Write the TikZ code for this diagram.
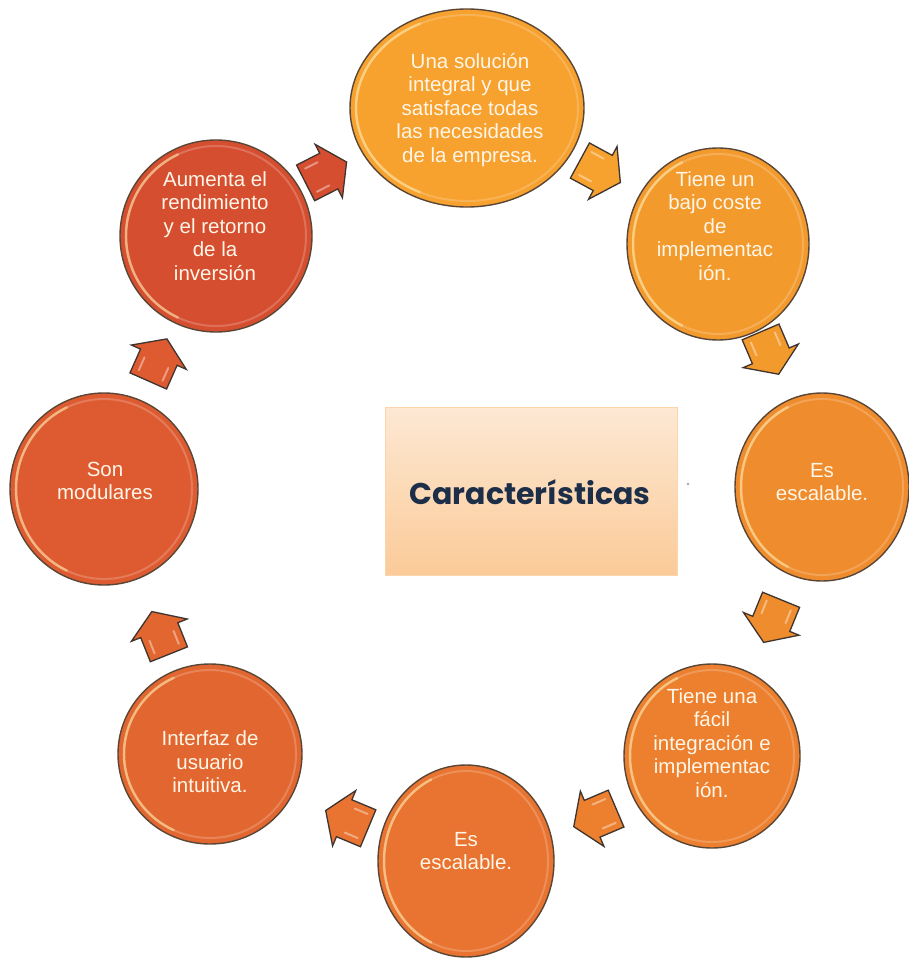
\documentclass[tikz,border=0pt]{standalone}
\usepackage{fontspec}
\setmainfont{Liberation Sans}
\newfontfamily\titlefont{Poppins}
\usetikzlibrary{shapes.geometric,calc}
\definecolor{colA}{HTML}{F7A12E}
\definecolor{colB}{HTML}{F39A2D}
\definecolor{colC}{HTML}{EF8C2D}
\definecolor{colD}{HTML}{EC802F}
\definecolor{colE}{HTML}{E97330}
\definecolor{colF}{HTML}{E2662F}
\definecolor{colG}{HTML}{DE5B31}
\definecolor{colH}{HTML}{D64E30}
\definecolor{bubline}{HTML}{5A4636}
\definecolor{arrline}{HTML}{3E3430}
\definecolor{boxtop}{HTML}{FDE8D4}
\definecolor{boxbot}{HTML}{FBCB98}
\definecolor{titlecol}{HTML}{1C2E48}
\definecolor{txtcol}{HTML}{FFF6E8}
\definecolor{rimcol}{HTML}{FFE9A8}
\begin{document}
\begin{tikzpicture}[x=1pt,y=-1pt,
  bub/.style={ellipse, draw=bubline, line width=1.4pt, inner sep=0pt},
  rim/.style={draw=white, opacity=.2, line width=2pt},
  gloss/.style={draw=rimcol, opacity=.55, line width=2.5pt, line cap=round},
  txt/.style={text=txtcol, align=center, font=\fontsize{20.5}{23.5}\selectfont},
  box/.style={rectangle, top color=boxtop, bottom color=boxbot, draw=boxbot!80!white, line width=1pt,
    minimum width=292pt, minimum height=168pt, inner sep=0pt},
  title/.style={text=titlecol, font=\titlefont\bfseries\fontsize{30}{36}\selectfont},
  barrow/.pic={
    \path[pic actions, draw=arrline, line width=1.3pt, line join=miter]
      (-24,-20) -- (2,-20) -- (2,-30) -- (22,0) -- (2,30) -- (2,20) -- (-24,20) -- cycle;
    \draw[white, opacity=.4, line width=2pt, line cap=round] (-18,-13) -- (-4,-13);
    \draw[white, opacity=.4, line width=2pt, line cap=round] (-18,13) -- (-4,13);
  }]
\useasboundingbox (0,0) rectangle (908,960);
\fill[white] (0,0) rectangle (908,960);

% bubbles
\node[bub, fill=colA, minimum width=234pt, minimum height=198pt] (c1) at (467,108) {};
\node[bub, fill=colB, minimum width=182pt, minimum height=192pt] (c2) at (718,244) {};
\node[bub, fill=colC, minimum width=174pt, minimum height=188pt] (c3) at (822,487) {};
\node[bub, fill=colD, minimum width=176pt, minimum height=184pt] (c4) at (712,756) {};
\node[bub, fill=colE, minimum width=176pt, minimum height=192pt] (c5) at (466,861) {};
\node[bub, fill=colF, minimum width=184pt, minimum height=180pt] (c6) at (210,754) {};
\node[bub, fill=colG, minimum width=188pt, minimum height=192pt] (c7) at (104,489) {};
\node[bub, fill=colH, minimum width=192pt, minimum height=192pt] (c8) at (216,236) {};

\foreach \n/\rx/\ry in {c1/111/93, c2/85/90, c3/81/88, c4/82/86, c5/82/90, c6/86/84, c7/88/90, c8/90/90}{
  \draw[rim] (\n.center) ellipse[x radius=\rx, y radius=\ry];
  \draw[gloss] (\n.center) ++({\rx*cos(115)},{\ry*sin(115)}) arc[start angle=115, end angle=245, x radius=\rx, y radius=\ry];
}

% texts
\node[txt] (t1) at (470,110) {Una solución\\integral y que\\satisface todas\\las necesidades\\de la empresa.};
\node[txt] (t2) at (715,226) {Tiene un\\bajo coste\\de\\implementac\\ión.};
\node[txt] (t3) at (822,482) {Es\\escalable.};
\node[txt] (t4) at (712,743) {Tiene una\\fácil\\integración e\\implementac\\ión.};
\node[txt] (t5) at (466,851) {Es\\escalable.};
\node[txt] (t6) at (210,762) {Interfaz de\\usuario\\intuitiva.};
\node[txt] (t7) at (105,481) {Son\\modulares};
\node[txt] (t8) at (215,226) {Aumenta el\\rendimiento\\y el retorno\\de la\\inversión};

% centre box
\node[box] (box) at (531,491) {};
\node[title] (ttl) at (530,492) {Características};
\fill[gray!70] (688,484) circle[radius=1.3];

% block arrows between bubbles
\foreach \a/\b/\px/\py/\col in {c8/c1/327/172/colH, c1/c2/601/172/colA, c2/c3/770/354/colB,
    c3/c4/772/622/colC, c4/c5/594/818/colD, c5/c6/346/819/colE, c6/c7/160/632/colF, c7/c8/158/359/colG}{
  \path let \p1=($(\b.center)-(\a.center)$), \n1={atan2(\y1,\x1)} in
    pic[rotate=\n1, fill=\col] at (\px,\py) {barrow};
}
\end{tikzpicture}
\end{document}
